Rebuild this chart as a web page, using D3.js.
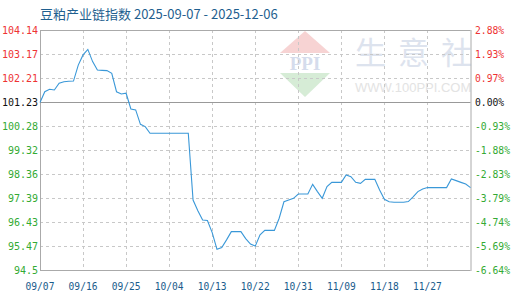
<!DOCTYPE html>
<html><head><meta charset="utf-8">
<script src="https://cdn.jsdelivr.net/npm/d3@7"></script>
<style>body{margin:0;background:#fff;}svg{display:block;}</style>
</head><body><svg id="c" width="520" height="300"></svg>
<script>
const title = "豆粕产业链指数 2025-09-07 - 2025-12-06";
const dates = ["2025-09-07","2025-09-08","2025-09-09","2025-09-10","2025-09-11","2025-09-12","2025-09-13","2025-09-14","2025-09-15","2025-09-16","2025-09-17","2025-09-18","2025-09-19","2025-09-20","2025-09-21","2025-09-22","2025-09-23","2025-09-24","2025-09-25","2025-09-26","2025-09-27","2025-09-28","2025-09-29","2025-09-30","2025-10-01","2025-10-02","2025-10-03","2025-10-04","2025-10-05","2025-10-06","2025-10-07","2025-10-08","2025-10-09","2025-10-10","2025-10-11","2025-10-12","2025-10-13","2025-10-14","2025-10-15","2025-10-16","2025-10-17","2025-10-18","2025-10-19","2025-10-20","2025-10-21","2025-10-22","2025-10-23","2025-10-24","2025-10-25","2025-10-26","2025-10-27","2025-10-28","2025-10-29","2025-10-30","2025-10-31","2025-11-01","2025-11-02","2025-11-03","2025-11-04","2025-11-05","2025-11-06","2025-11-07","2025-11-08","2025-11-09","2025-11-10","2025-11-11","2025-11-12","2025-11-13","2025-11-14","2025-11-15","2025-11-16","2025-11-17","2025-11-18","2025-11-19","2025-11-20","2025-11-21","2025-11-22","2025-11-23","2025-11-24","2025-11-25","2025-11-26","2025-11-27","2025-11-28","2025-11-29","2025-11-30","2025-12-01","2025-12-02","2025-12-03","2025-12-04","2025-12-05","2025-12-06"];
const values = [101.23,101.66,101.76,101.73,102.00,102.06,102.08,102.09,102.73,103.14,103.36,102.87,102.53,102.52,102.51,102.40,101.66,101.57,101.60,100.97,100.93,100.35,100.26,99.99,99.99,99.99,99.99,99.99,99.99,99.99,99.99,99.99,97.31,96.88,96.51,96.49,96.00,95.33,95.40,95.71,96.04,96.04,96.04,95.76,95.54,95.46,95.91,96.09,96.09,96.09,96.58,97.24,97.31,97.38,97.55,97.55,97.55,97.94,97.65,97.38,97.85,98.02,98.02,98.02,98.32,98.25,98.02,97.98,98.14,98.14,98.14,97.71,97.34,97.24,97.22,97.22,97.22,97.25,97.44,97.65,97.75,97.81,97.81,97.81,97.81,97.81,98.16,98.09,98.02,97.95,97.81];
const yTicks = [104.14,103.17,102.21,101.23,100.28,99.32,98.36,97.39,96.43,95.47,94.5];
const yTickLabels = ["104.14","103.17","102.21","101.23","100.28","99.32","98.36","97.39","96.43","95.47","94.5"];
const pctLabels = ["2.88%","1.93%","0.97%","0.00%","-0.93%","-1.88%","-2.83%","-3.79%","-4.74%","-5.69%","-6.64%"];
const xTickLabels = ["09/07","09/16","09/25","10/04","10/13","10/22","10/31","11/09","11/18","11/27"];
const baseValue = 101.23;
const wmChars = ["生","意","社"];

const parse = d3.timeParse("%Y-%m-%d");
const data = dates.map((d,i)=>({date:parse(d), value:values[i]}));
const svg = d3.select("#c");
const L=40, R=470.5, T=30, B=270;
const x = d3.scaleTime().domain([parse("2025-09-07"), parse("2025-12-06")]).range([L,R]);
const y = d3.scaleLinear().domain([94.5,104.14]).range([B,T]);
const xTickDates = xTickLabels.map(s=>parse("2025-"+s.replace("/","-")));

// watermark
const wm = svg.append("g");
wm.append("path").attr("d","M305,31 L330,53 L280,53 Z").attr("fill","#f7d3d3");
wm.append("path").attr("d","M280,73 L330,73 L305,97 Z").attr("fill","#d6ecd6");
wm.append("text").attr("x",305).attr("y",70).attr("text-anchor","middle")
  .attr("font-family","Liberation Serif, serif").attr("font-size",19).attr("font-weight","bold")
  .attr("fill","#d5dcec").text("PPI");
wmChars.forEach((c,i)=>{
  wm.append("text").attr("x",355+i*43).attr("y",64).attr("font-family","Noto Sans CJK SC")
    .attr("font-size",31).attr("fill","#dde3ee").text(c);
});
wm.append("text").attr("x",355).attr("y",92).attr("font-family","Liberation Sans, Arial")
  .attr("font-size",13).attr("fill","#e3e3e3").text("WWW.100PPI.COM");

// grid
const grid = svg.append("g");
yTicks.forEach(v=>{
  if (v===baseValue || v===104.14 || v===94.5) return;
  grid.append("line").attr("x1",L).attr("x2",R).attr("y1",Math.round(y(v))+0.5).attr("y2",Math.round(y(v))+0.5)
    .attr("stroke","#c8c8c8").attr("stroke-dasharray","3,3");
});
xTickDates.forEach((d,i)=>{
  if(i===0) return;
  const xx = Math.round(x(d))+0.5;
  grid.append("line").attr("x1",xx).attr("x2",xx).attr("y1",T).attr("y2",B)
    .attr("stroke","#c8c8c8").attr("stroke-dasharray","3,3");
});
// frame
svg.append("line").attr("x1",L).attr("x2",R).attr("y1",T+0.5).attr("y2",T+0.5).attr("stroke","#aaa");
svg.append("line").attr("x1",L).attr("x2",R).attr("y1",B+0.5).attr("y2",B+0.5).attr("stroke","#aaa");
svg.append("line").attr("x1",L+0.5).attr("x2",L+0.5).attr("y1",T).attr("y2",B+1).attr("stroke","#aaa");
svg.append("line").attr("x1",R+0.5).attr("x2",R+0.5).attr("y1",T).attr("y2",B+1).attr("stroke","#aaa");
svg.append("line").attr("x1",L).attr("x2",R).attr("y1",Math.round(y(baseValue))+0.5).attr("y2",Math.round(y(baseValue))+0.5).attr("stroke","#999");

// line
svg.append("path").datum(data)
  .attr("d", d3.line().x(d=>x(d.date)).y(d=>y(d.value)))
  .attr("fill","none").attr("stroke","#3a98d8").attr("stroke-width",1.1);

// axis labels
const colorFor = v => v>baseValue ? "#ee3333" : (v===baseValue ? "#111" : "#33aa33");
const yl = svg.append("g").attr("font-family","DejaVu Sans Mono, monospace").attr("font-size",10);
yTicks.forEach((v,i)=>{
  yl.append("text").attr("x",38).attr("y",y(v)+4).attr("text-anchor","end")
    .attr("fill",colorFor(v)).text(yTickLabels[i]);
  yl.append("text").attr("x",475).attr("y",y(v)+4).attr("text-anchor","start")
    .attr("font-size",9.7).attr("fill",colorFor(v)).text(pctLabels[i]);
});
const xl = svg.append("g").attr("font-family","DejaVu Sans Mono, monospace").attr("font-size",9.6).attr("fill","#1a5c8c");
xTickDates.forEach((d,i)=>{
  xl.append("text").attr("x",x(d)).attr("y",290).attr("text-anchor","middle").text(xTickLabels[i]);
});
// title
svg.append("text").attr("x",40).attr("y",19).attr("font-family","Noto Sans CJK SC, sans-serif")
  .attr("font-size",13).attr("fill","#1f5f8f").text(title);
</script></body></html>
